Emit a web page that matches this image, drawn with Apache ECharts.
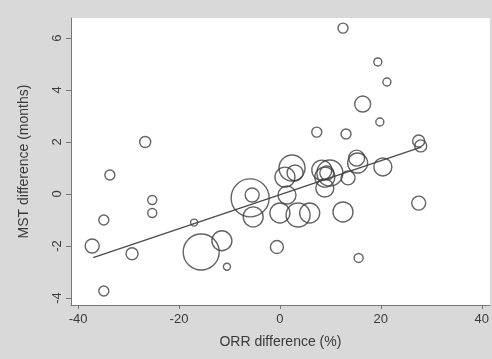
<!DOCTYPE html>
<html>
<head>
<meta charset="utf-8">
<script src="https://cdn.jsdelivr.net/npm/echarts@6/dist/echarts.min.js"></script>
<style>
  html, body { margin: 0; padding: 0; background: #d9d9d9; }
  #chart { width: 492px; height: 359px; }
</style>
</head>
<body>
<div id="chart"></div>
<script>
// ORR difference (%) per trial
const orrDiff = [12.5, 19.4, 21.2, 16.4, 19.8, 7.3, 13.1, 27.5, 27.9, -26.7,
  -33.7, -25.3, -25.3, -34.9, -37.2, -29.3, -34.9, -17.0, -15.6, -11.5,
  -10.5, -0.6, 15.6, 27.5, 12.5, 20.4, -5.9, -5.5, -5.3, 2.4,
  3.0, 1.0, 1.4, 0.0, 3.6, 9.9, 8.9, 9.3, 15.4, 15.2,
  13.5, 8.9, 5.9, 8.3]
// MST difference (months)
const mstDiff = [6.38, 5.08, 4.31, 3.46, 2.77, 2.38, 2.31, 2.04, 1.85, 2.0,
  0.73, -0.23, -0.73, -1.0, -2.0, -2.3, -3.73, -1.1, -2.23, -1.8,
  -2.8, -2.04, -2.46, -0.35, -0.69, 1.04, -0.15, -0.04, -0.88, 1.0,
  0.81, 0.65, -0.04, -0.73, -0.81, 0.81, 0.65, 0.81, 1.19, 1.38,
  0.62, 0.23, -0.73, 0.92]
// trial weight (drawn as bubble diameter)
const weight = [10, 8, 8, 16, 8, 10, 10, 12, 12, 11,
  10, 9, 9, 10, 14, 12, 10, 7, 36, 20,
  7, 13, 9, 14, 20, 18, 38, 14, 20, 26,
  16, 20, 18, 20, 24, 26, 20, 14, 20, 16,
  14, 18, 20, 20]

// fitted regression line end points
const fitX = [-37, 28]
const fitY = [-2.45, 1.8]

const xTicks = [-40, -20, 0, 20, 40]
const yTicks = [-4, -2, 0, 2, 4, 6]

const bubbles = orrDiff.map((x, i) => [x, mstDiff[i], weight[i]])
const fitLine = fitX.map((x, i) => [x, fitY[i]])

const chart = echarts.init(document.getElementById('chart'))

const textColor = '#3a3a3a'
const font = 'Liberation Sans, Arial, sans-serif'

const option = {
  backgroundColor: '#d9d9d9',
  animation: false,
  grid: {
    left: 71,
    right: 2,
    top: 18,
    bottom: 54,
    show: true,
    backgroundColor: '#ffffff',
    borderWidth: 0
  },
  xAxis: {
    type: 'value',
    min: -41.4,
    max: 41.6,
    name: 'ORR difference (%)',
    nameLocation: 'middle',
    nameGap: 30,
    nameTextStyle: { color: textColor, fontSize: 14, fontFamily: font },
    splitLine: { show: false },
    axisLine: { show: true, onZero: false, lineStyle: { color: '#777', width: 1 } },
    axisTick: {
      show: true, length: 4, customValues: xTicks,
      lineStyle: { color: '#777' }
    },
    axisLabel: {
      customValues: xTicks,
      color: textColor, fontSize: 13, fontFamily: font, margin: 8
    }
  },
  yAxis: {
    type: 'value',
    min: -4.27,
    max: 6.77,
    name: 'MST difference (months)',
    nameLocation: 'middle',
    nameGap: 40,
    nameTextStyle: { color: textColor, fontSize: 14, fontFamily: font },
    splitLine: { show: false },
    axisLine: { show: true, onZero: false, lineStyle: { color: '#777', width: 1 } },
    axisTick: {
      show: true, length: 5, customValues: yTicks,
      lineStyle: { color: '#777' }
    },
    axisLabel: {
      customValues: yTicks,
      rotate: 90,
      color: textColor, fontSize: 13, fontFamily: font, margin: 7
    }
  },
  series: [
    {
      type: 'scatter',
      data: bubbles,
      symbol: 'circle',
      symbolSize: v => v[2],
      itemStyle: {
        color: 'rgba(0,0,0,0)',
        borderColor: '#3d3d3d',
        borderWidth: 1.4
      },
      z: 3
    },
    {
      type: 'line',
      data: fitLine,
      symbol: 'none',
      lineStyle: { color: '#4a4a4a', width: 1.3 },
      z: 2
    }
  ]
}

chart.setOption(option)
</script>
</body>
</html>
